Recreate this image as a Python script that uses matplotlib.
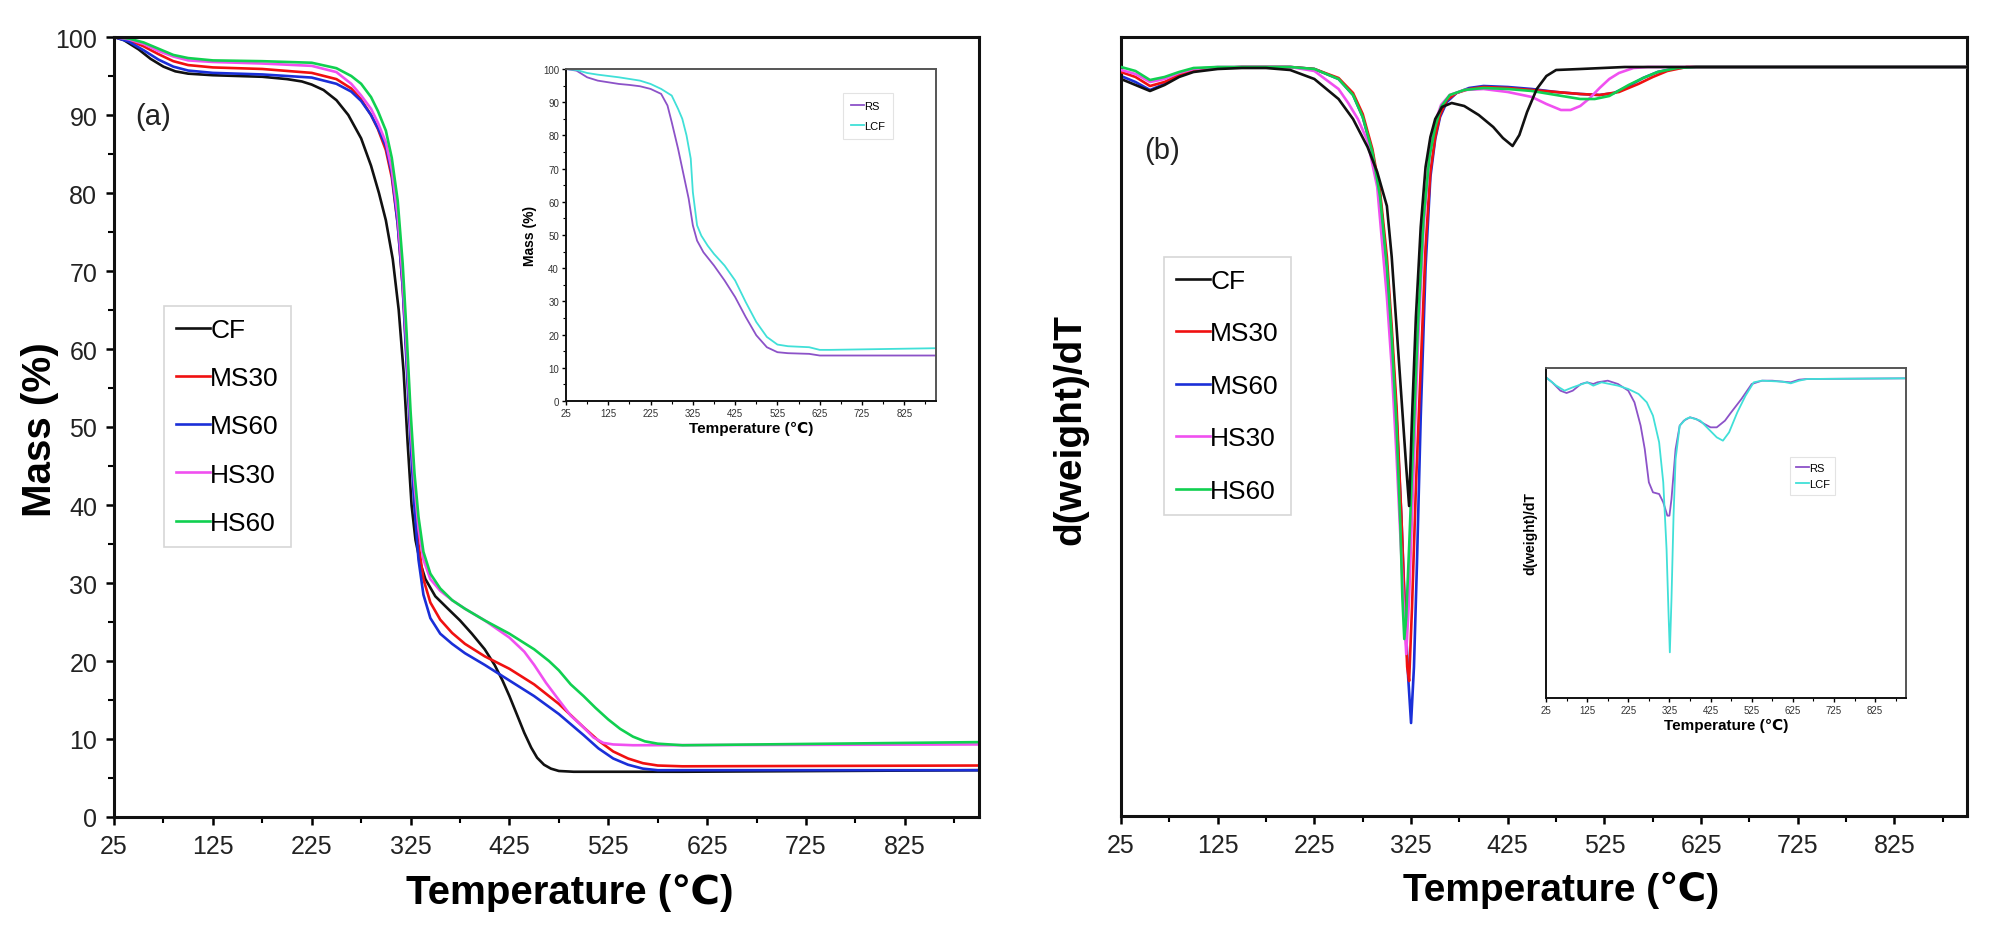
import matplotlib
matplotlib.use("Agg")
import matplotlib.pyplot as plt
from matplotlib.ticker import MultipleLocator, FixedLocator
from matplotlib.lines import Line2D

plt.rcParams['font.family'] = ['Liberation Sans', 'DejaVu Sans']

# ---------------- data: (a) TGA main ----------------
series_names = ["CF", "MS30", "MS60", "HS30", "HS60"]
series_colors = ["#111111", "#f01010", "#1a2fd8", "#f050f0", "#10d050"]

cf_T = [25, 35, 50, 62, 75, 87, 100, 125, 150, 175, 200, 215, 225, 237, 250, 262, 275, 285, 293, 300, 307, 313, 318, 322, 326, 330, 335, 340, 350, 362, 375, 387, 400, 410, 418, 425, 433, 440, 447, 453, 460, 467, 475, 490, 525, 600, 900]
cf_M = [100, 99.6, 98.4, 97.2, 96.2, 95.6, 95.3, 95.1, 95.0, 94.9, 94.6, 94.3, 93.9, 93.2, 91.9, 90.0, 87.0, 83.5, 80.0, 76.5, 71.5, 65.0, 57.0, 48.0, 40.0, 35.5, 32.5, 30.5, 28.3, 26.8, 25.2, 23.5, 21.5, 19.5, 17.5, 15.5, 13.0, 10.8, 8.9, 7.6, 6.7, 6.2, 5.9, 5.8, 5.8, 5.8, 6.0]

ms30_T = [25, 40, 55, 70, 85, 100, 125, 175, 225, 250, 265, 275, 285, 292, 300, 306, 312, 317, 321, 325, 329, 333, 338, 345, 355, 367, 380, 400, 425, 450, 475, 500, 515, 530, 545, 560, 575, 600, 900]
ms30_M = [100, 99.6, 98.8, 97.8, 96.9, 96.4, 96.1, 95.9, 95.4, 94.6, 93.4, 92.0, 90.0, 88.2, 85.5, 82.0, 76.0, 68.0, 59.0, 49.0, 41.0, 35.0, 30.5, 27.5, 25.3, 23.6, 22.2, 20.6, 19.0, 17.0, 14.5, 11.5, 9.8, 8.4, 7.5, 6.9, 6.6, 6.5, 6.6]

ms60_T = [25, 40, 55, 70, 85, 100, 125, 175, 225, 250, 265, 275, 285, 292, 300, 306, 312, 317, 321, 325, 329, 333, 338, 345, 355, 367, 380, 400, 425, 450, 475, 500, 515, 530, 545, 560, 575, 900]
ms60_M = [100, 99.4, 98.3, 97.1, 96.2, 95.7, 95.4, 95.2, 94.8, 94.0, 93.0, 91.8, 90.0, 88.3, 86.0, 82.5, 76.0, 68.0, 58.0, 48.0, 39.5, 33.0, 28.5, 25.5, 23.5, 22.2, 21.0, 19.5, 17.5, 15.5, 13.2, 10.5, 8.8, 7.5, 6.7, 6.2, 6.0, 6.0]

hs30_T = [25, 40, 55, 70, 85, 100, 125, 175, 225, 250, 265, 275, 285, 292, 300, 306, 312, 317, 321, 325, 329, 333, 338, 345, 355, 367, 380, 400, 425, 440, 450, 462, 475, 487, 500, 510, 520, 530, 550, 900]
hs30_M = [100, 99.7, 99.1, 98.2, 97.5, 97.0, 96.8, 96.6, 96.3, 95.5, 94.0, 92.5, 90.8, 89.0, 86.5, 83.0, 77.0, 69.0, 60.0, 50.0, 42.5, 37.0, 33.0, 30.5, 29.0, 27.8, 26.7, 25.2, 23.0, 21.2, 19.5, 17.2, 15.0, 13.0, 11.5, 10.2, 9.5, 9.3, 9.2, 9.3]

hs60_T = [25, 40, 55, 70, 85, 100, 125, 175, 225, 250, 265, 275, 285, 292, 300, 306, 312, 317, 321, 325, 329, 333, 338, 345, 355, 367, 380, 400, 425, 450, 465, 475, 487, 500, 512, 525, 537, 550, 562, 575, 600, 900]
hs60_M = [100, 99.8, 99.3, 98.5, 97.7, 97.3, 97.0, 96.9, 96.7, 96.0, 95.0, 94.0, 92.3, 90.5, 88.0, 84.5, 79.0, 71.0, 62.0, 52.0, 44.0, 38.5, 34.0, 31.2, 29.3, 27.8, 26.7, 25.2, 23.5, 21.5, 20.0, 18.8, 17.0, 15.5, 14.0, 12.5, 11.3, 10.3, 9.7, 9.4, 9.2, 9.6]

# ---------------- data: (a) inset TGA ----------------
inset_names = ["RS", "LCF"]
inset_colors = ["#8c52c8", "#40e0d8"]
rs_T = [25, 50, 75, 100, 125, 150, 175, 200, 225, 250, 265, 275, 290, 300, 315, 325, 335, 350, 375, 400, 425, 450, 475, 500, 525, 550, 600, 625, 700, 900]
rs_M = [100, 99.5, 97.5, 96.5, 96.0, 95.5, 95.2, 94.8, 94.0, 92.5, 89.0, 84.0, 76.0, 70.0, 61.0, 52.9, 48.3, 44.8, 40.8, 36.3, 31.3, 25.3, 19.8, 16.2, 14.7, 14.4, 14.2, 13.7, 13.7, 13.7]
lcf_T = [25, 50, 75, 100, 150, 200, 225, 250, 275, 290, 300, 310, 320, 325, 330, 335, 345, 360, 375, 400, 425, 450, 475, 500, 525, 550, 600, 625, 650, 900]
lcf_M = [100, 99.7, 98.8, 98.3, 97.5, 96.5, 95.5, 94.0, 92.0, 88.0, 85.0, 80.0, 73.0, 62.9, 57.9, 52.9, 49.8, 46.8, 44.3, 40.8, 36.3, 29.8, 23.8, 19.3, 17.0, 16.5, 16.2, 15.4, 15.4, 15.9]

# ---------------- data: (b) DTG main (arbitrary units) ----------------
dcf_T = [25, 40, 55, 70, 85, 100, 125, 150, 175, 200, 225, 250, 265, 280, 290, 300, 305, 310, 315, 320, 323, 326, 330, 335, 340, 345, 350, 357, 367, 380, 395, 410, 420, 430, 437, 445, 455, 465, 475, 500, 546, 900]
dcf_V = [-0.12, -0.18, -0.24, -0.18, -0.10, -0.05, -0.02, -0.01, -0.01, -0.03, -0.12, -0.32, -0.52, -0.80, -1.05, -1.39, -1.9, -2.6, -3.3, -4.0, -4.39, -3.5, -2.5, -1.6, -1.0, -0.7, -0.52, -0.40, -0.36, -0.39, -0.48, -0.60, -0.71, -0.79, -0.68, -0.45, -0.22, -0.09, -0.03, -0.02, 0.0, 0.0]

dms30_T = [25, 40, 55, 70, 85, 100, 125, 150, 200, 225, 250, 265, 275, 285, 293, 300, 305, 310, 315, 318, 321, 323, 326, 330, 335, 340, 345, 350, 355, 362, 372, 385, 400, 425, 450, 475, 500, 520, 540, 560, 575, 590, 610, 900]
dms30_V = [-0.05, -0.10, -0.19, -0.15, -0.08, -0.03, -0.01, 0.0, 0.0, -0.02, -0.11, -0.26, -0.47, -0.82, -1.25, -1.9, -2.6, -3.4, -4.5, -5.3, -6.0, -6.14, -5.4, -4.2, -3.0, -1.8, -1.05, -0.7, -0.48, -0.33, -0.26, -0.22, -0.20, -0.21, -0.23, -0.25, -0.27, -0.28, -0.25, -0.17, -0.10, -0.04, 0.0, 0.0]

dms60_T = [25, 40, 55, 70, 85, 100, 125, 150, 200, 225, 250, 265, 275, 285, 293, 300, 305, 310, 315, 318, 322, 325, 328, 331, 335, 340, 345, 350, 355, 362, 372, 385, 400, 425, 450, 475, 500, 520, 535, 550, 565, 580, 600, 620, 900]
dms60_V = [-0.09, -0.15, -0.23, -0.17, -0.09, -0.04, -0.01, 0.0, 0.0, -0.02, -0.12, -0.28, -0.50, -0.85, -1.3, -2.0, -2.7, -3.5, -4.5, -5.25, -6.1, -6.56, -6.0, -5.0, -3.5, -2.0, -1.1, -0.72, -0.5, -0.35, -0.26, -0.21, -0.19, -0.20, -0.22, -0.25, -0.27, -0.28, -0.26, -0.19, -0.11, -0.05, -0.01, 0.0, 0.0]

dhs30_T = [25, 40, 55, 70, 85, 100, 125, 200, 225, 250, 260, 270, 280, 290, 300, 305, 310, 315, 318, 320, 323, 327, 332, 338, 344, 350, 356, 365, 380, 400, 425, 450, 465, 480, 490, 500, 510, 520, 530, 540, 555, 570, 900]
dhs30_V = [-0.03, -0.07, -0.15, -0.12, -0.06, -0.02, 0.0, 0.0, -0.04, -0.22, -0.36, -0.52, -0.74, -1.2, -2.3, -3.0, -3.9, -4.9, -5.5, -5.87, -5.3, -4.2, -2.8, -1.6, -0.9, -0.55, -0.38, -0.28, -0.23, -0.22, -0.25, -0.30, -0.37, -0.43, -0.43, -0.39, -0.31, -0.21, -0.12, -0.06, -0.01, 0.0, 0.0]

dhs60_T = [25, 40, 55, 70, 85, 100, 125, 200, 225, 250, 265, 275, 285, 293, 300, 305, 310, 314, 316, 318, 320, 323, 327, 332, 338, 344, 350, 356, 365, 380, 400, 425, 450, 475, 500, 515, 530, 550, 565, 580, 600, 620, 900]
dhs60_V = [0.0, -0.04, -0.13, -0.10, -0.05, -0.01, 0.0, 0.0, -0.02, -0.12, -0.28, -0.50, -0.85, -1.3, -2.0, -2.7, -3.6, -4.6, -5.3, -5.72, -5.5, -4.8, -3.8, -2.6, -1.5, -0.9, -0.6, -0.4, -0.28, -0.23, -0.21, -0.22, -0.24, -0.28, -0.32, -0.32, -0.29, -0.18, -0.11, -0.05, -0.01, 0.0, 0.0]

# ---------------- data: (b) inset DTG ----------------
drs_T = [25, 40, 60, 75, 90, 110, 125, 140, 150, 175, 200, 225, 240, 255, 265, 275, 285, 300, 310, 320, 325, 330, 340, 350, 360, 375, 390, 410, 425, 440, 460, 475, 500, 525, 550, 575, 600, 620, 640, 660, 900]
drs_V = [0.03, -0.12, -0.37, -0.44, -0.37, -0.17, -0.12, -0.17, -0.12, -0.07, -0.17, -0.37, -0.72, -1.42, -2.12, -3.12, -3.42, -3.47, -3.72, -4.12, -4.12, -3.62, -2.12, -1.42, -1.27, -1.17, -1.22, -1.37, -1.47, -1.47, -1.27, -1.02, -0.62, -0.17, -0.07, -0.07, -0.10, -0.12, -0.04, -0.02, 0.0]
dlcf_T = [25, 50, 70, 90, 125, 140, 160, 200, 225, 250, 270, 285, 300, 310, 318, 323, 326, 330, 335, 340, 350, 365, 375, 400, 420, 440, 455, 470, 490, 510, 530, 550, 600, 620, 640, 660, 900]
dlcf_V = [0.03, -0.22, -0.37, -0.27, -0.12, -0.22, -0.12, -0.22, -0.32, -0.47, -0.72, -1.12, -1.92, -3.12, -5.12, -7.12, -8.22, -6.62, -4.12, -2.42, -1.42, -1.22, -1.17, -1.27, -1.52, -1.77, -1.87, -1.62, -1.02, -0.52, -0.12, -0.07, -0.10, -0.15, -0.07, -0.02, 0.0]

x_major = [25, 125, 225, 325, 425, 525, 625, 725, 825]
x_minor = [75, 175, 275, 375, 475, 575, 675, 775, 875]
x_labels = [str(v) for v in x_major]

W, H = 1990, 929
fig = plt.figure(figsize=(W / 100, H / 100), dpi=100)


def fr(x0, y0, x1, y1):
    return [x0 / W, 1 - y1 / H, (x1 - x0) / W, (y1 - y0) / H]


tick_col = "#222222"

# ================= panel (a) =================
axA = fig.add_axes(fr(114, 38, 979, 818))
mainT = [cf_T, ms30_T, ms60_T, hs30_T, hs60_T]
mainM = [cf_M, ms30_M, ms60_M, hs30_M, hs60_M]
for T, M, c, n in zip(mainT, mainM, series_colors, series_names):
    axA.plot(T, M, color=c, lw=1.9, label=n)
axA.set_xlim(25, 900)
axA.set_ylim(0, 100)
axA.xaxis.set_major_locator(FixedLocator(x_major))
axA.xaxis.set_minor_locator(FixedLocator(x_minor))
axA.set_xticklabels(x_labels)
axA.yaxis.set_major_locator(MultipleLocator(10))
axA.yaxis.set_minor_locator(MultipleLocator(5))
axA.tick_params(which='major', direction='out', length=6, width=1.8, labelsize=18,
                labelcolor=tick_col, pad=6)
axA.tick_params(which='minor', direction='out', length=4, width=1.5)
for s in axA.spines.values():
    s.set_linewidth(2.2)
    s.set_color("#111111")
axA.text(0.024, 0.899, "(a)", transform=axA.transAxes, fontsize=21,
         va='center', ha='left', color="#222222")
legA = axA.legend(loc='upper left', bbox_to_anchor=(164 / W, 1 - 307 / H),
                  bbox_transform=fig.transFigure, fontsize=19, frameon=True,
                  fancybox=False, edgecolor="#cccccc", handlelength=1.3,
                  handletextpad=0.0, labelspacing=0.92, borderpad=0.45,
                  borderaxespad=0)
legA.get_frame().set_linewidth(1.2)

fig.text(40 / W, 1 - 430 / H, "Mass (%)", rotation=90, fontsize=29,
         fontweight='bold', ha='center', va='center')
fig.text(570 / W, 1 - 893 / H, "Temperature (\u2103)", fontsize=29,
         fontweight='bold', ha='center', va='center')

# ----- inset (a)
axAi = fig.add_axes(fr(566, 70, 936, 402))
axAi.plot(rs_T, rs_M, color=inset_colors[0], lw=1.3, label=inset_names[0])
axAi.plot(lcf_T, lcf_M, color=inset_colors[1], lw=1.3, label=inset_names[1])
axAi.set_xlim(25, 900)
axAi.set_ylim(0, 100)
axAi.xaxis.set_major_locator(FixedLocator(x_major))
axAi.xaxis.set_minor_locator(FixedLocator(x_minor))
axAi.set_xticklabels(x_labels)
axAi.yaxis.set_major_locator(MultipleLocator(10))
axAi.yaxis.set_minor_locator(MultipleLocator(5))
axAi.tick_params(which='major', direction='out', length=3, width=1.0, labelsize=7,
                 labelcolor="#333333", pad=2)
axAi.tick_params(which='minor', direction='out', length=2, width=0.8)
for k, s in axAi.spines.items():
    s.set_linewidth(1.4)
    s.set_color("#111111" if k in ("left", "bottom") else "#555555")
axAi.set_xlabel("Temperature (\u2103)", fontsize=11, fontweight='bold', labelpad=2)
axAi.set_ylabel("Mass (%)", fontsize=10, fontweight='bold', labelpad=4)
legAi = axAi.legend(loc='upper left', bbox_to_anchor=(843 / W, 1 - 94 / H),
                    bbox_transform=fig.transFigure, fontsize=8, frameon=True,
                    fancybox=False, edgecolor="#dddddd", handlelength=1.2,
                    handletextpad=0.0, labelspacing=0.9, borderpad=0.7,
                    borderaxespad=0)
legAi.get_frame().set_linewidth(0.8)

# ================= panel (b) =================
axB = fig.add_axes(fr(1121, 38, 1967, 817))
dT = [dcf_T, dms30_T, dms60_T, dhs30_T, dhs60_T]
dV = [dcf_V, dms30_V, dms60_V, dhs30_V, dhs60_V]
zorders = [5, 3, 2, 4, 4]
for i in range(5):
    axB.plot(dT[i], dV[i], color=series_colors[i], lw=1.9, label=series_names[i],
             zorder=zorders[i])
axB.set_xlim(25, 900)
axB.set_ylim(-7.49, 0.30)
axB.xaxis.set_major_locator(FixedLocator(x_major))
axB.xaxis.set_minor_locator(FixedLocator(x_minor))
axB.set_xticklabels(x_labels)
axB.set_yticks([])
axB.tick_params(which='major', direction='out', length=6, width=1.8, labelsize=18,
                labelcolor=tick_col, pad=6)
axB.tick_params(which='minor', direction='out', length=4, width=1.5)
for s in axB.spines.values():
    s.set_linewidth(2.2)
    s.set_color("#111111")
axB.text(0.027, 0.855, "(b)", transform=axB.transAxes, fontsize=21,
         va='center', ha='left', color="#222222")
handles = [Line2D([], [], color=c, lw=1.9) for c in series_colors]
legB = axB.legend(handles, series_names, loc='upper left',
                  bbox_to_anchor=(1164 / W, 1 - 258 / H),
                  bbox_transform=fig.transFigure, fontsize=19, frameon=True,
                  fancybox=False, edgecolor="#cccccc", handlelength=1.3,
                  handletextpad=0.0, labelspacing=1.08, borderpad=0.45,
                  borderaxespad=0)
legB.get_frame().set_linewidth(1.2)

fig.text(1070 / W, 1 - 430 / H, "d(weight)/dT", rotation=90, fontsize=28,
         fontweight='bold', ha='center', va='center')
fig.text(1561 / W, 1 - 890 / H, "Temperature (\u2103)", fontsize=28,
         fontweight='bold', ha='center', va='center')

# ----- inset (b)
axBi = fig.add_axes(fr(1546, 369, 1906, 699))
axBi.plot(drs_T, drs_V, color=inset_colors[0], lw=1.3, label=inset_names[0])
axBi.plot(dlcf_T, dlcf_V, color=inset_colors[1], lw=1.3, label=inset_names[1])
axBi.set_xlim(25, 900)
axBi.set_ylim(-9.59, 0.31)
axBi.xaxis.set_major_locator(FixedLocator(x_major))
axBi.xaxis.set_minor_locator(FixedLocator(x_minor))
axBi.set_xticklabels(x_labels)
axBi.set_yticks([])
axBi.tick_params(which='major', direction='out', length=3, width=1.0, labelsize=7,
                 labelcolor="#333333", pad=2)
axBi.tick_params(which='minor', direction='out', length=2, width=0.8)
for k, s in axBi.spines.items():
    s.set_linewidth(1.4)
    s.set_color("#111111" if k in ("left", "bottom") else "#555555")
axBi.set_xlabel("Temperature (\u2103)", fontsize=11, fontweight='bold', labelpad=2)
axBi.set_ylabel("d(weight)/dT", fontsize=10, fontweight='bold', labelpad=6)
legBi = axBi.legend(loc='upper left', bbox_to_anchor=(1790 / W, 1 - 458 / H),
                    bbox_transform=fig.transFigure, fontsize=8, frameon=True,
                    fancybox=False, edgecolor="#dddddd", handlelength=1.2,
                    handletextpad=0.0, labelspacing=0.6, borderpad=0.5,
                    borderaxespad=0)
legBi.get_frame().set_linewidth(0.8)

fig.savefig("out.png", dpi=100, facecolor="white")
